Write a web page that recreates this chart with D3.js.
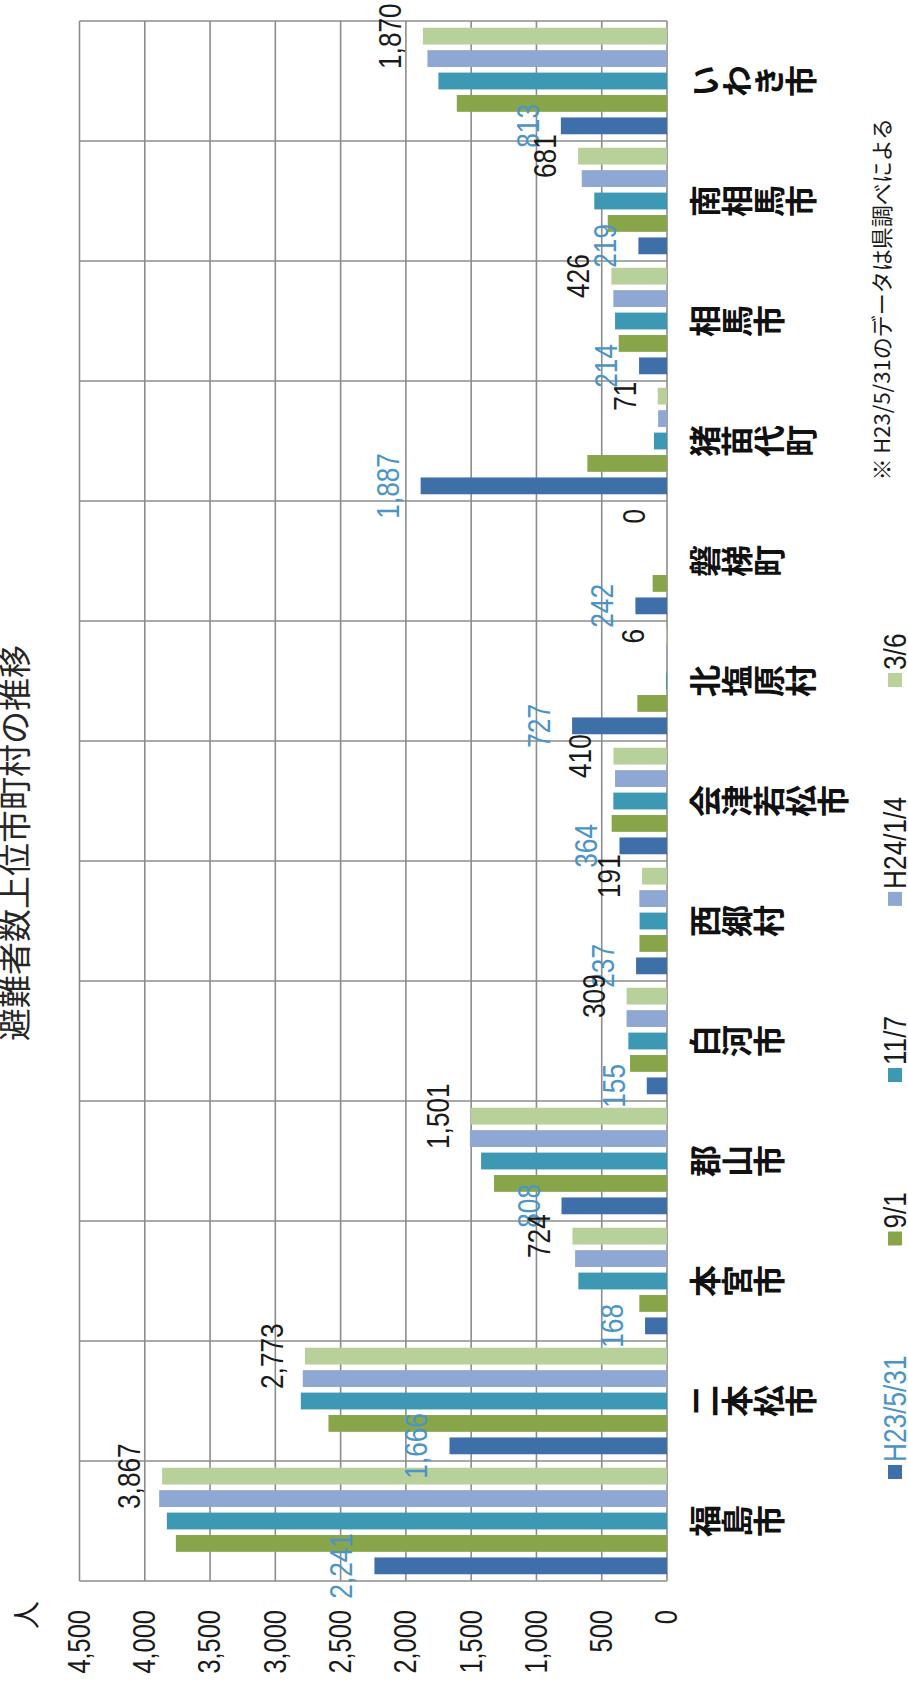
<!DOCTYPE html>
<meta charset="utf-8">

<!-- Load d3.js -->
<script src="https://d3js.org/d3.v7.min.js"></script>

<style>
body { margin: 0; background: #fff; }
svg { display: block; }
.num { font-family: "Liberation Sans", Arial, sans-serif; }
.jp { font-family: "Noto Sans CJK JP", sans-serif; }
</style>

<div id="chart"></div>

<script>
// categories (left to right in the upright chart)
var categories = ["福島市", "二本松市", "本宮市", "郡山市", "白河市", "西郷村", "会津若松市",
                  "北塩原村", "磐梯町", "猪苗代町", "相馬市", "南相馬市", "いわき市"];
var seriesNames = ["H23/5/31", "9/1", "11/7", "H24/1/4", "3/6"];

// evacuees per survey date
var h23_0531 = [2241, 1666, 168, 808, 155, 237, 364, 727, 242, 1887, 214, 219, 813];
var d0901    = [3762, 2593, 212, 1325, 283, 211, 424, 227, 110, 610, 370, 454, 1610];
var d1107    = [3831, 2805, 679, 1424, 296, 210, 411, 8, 0, 100, 398, 557, 1751];
var h24_0104 = [3890, 2790, 704, 1510, 310, 212, 398, 6, 0, 68, 411, 653, 1835];
var d0306    = [3867, 2773, 724, 1501, 309, 191, 410, 6, 0, 71, 426, 681, 1870];

var tickValues = [0, 500, 1000, 1500, 2000, 2500, 3000, 3500, 4000, 4500];

var title = "避難者数上位市町村の推移";
var unitLabel = "人";
var note = "※ H23/5/31のデータは県調べによる";

// the chart is drawn upright (W x H) and then turned a quarter left to fit the page
var W = 1686, H = 908;
var plot = {left: 105, right: 1665, top: 79.5, bottom: 667};

// squeeze latin text so it reads like the narrow face of the original
function narrow(sel) {
  sel.each(function() {
    var w = this.getComputedTextLength();
    d3.select(this).attr("textLength", w * 0.82).attr("lengthAdjust", "spacingAndGlyphs");
  });
}

var svg = d3.select("#chart")
  .append("svg")
    .attr("width", H)
    .attr("height", W);

var g = svg.append("g")
  .attr("transform", "translate(0," + W + ") rotate(-90)");

var rows = categories.map(function(c, i) {
  return {name: c, values: [h23_0531[i], d0901[i], d1107[i], h24_0104[i], d0306[i]]};
});

var x0 = d3.scaleBand()
  .domain(categories)
  .range([plot.left, plot.right]);

var x1 = d3.scaleBand()
  .domain(seriesNames)
  .range([0, x0.bandwidth()])
  .paddingInner(0.25)
  .paddingOuter(0.3);

var y = d3.scaleLinear()
  .domain([0, 4500])
  .range([plot.bottom, plot.top]);

var color = d3.scaleOrdinal()
  .domain(seriesNames)
  .range(["#3e6fa9", "#88a54a", "#3d98b3", "#8fa8d3", "#b8d09a"]);

var fmt = d3.format(",");

// grid: value lines and category separators
g.append("g")
  .selectAll("line")
  .data(tickValues)
  .enter().append("line")
    .attr("x1", plot.left).attr("x2", plot.right)
    .attr("y1", function(d) { return y(d); })
    .attr("y2", function(d) { return y(d); })
    .attr("stroke", "#8c8c8c")
    .attr("stroke-width", 1.6);

g.append("g")
  .selectAll("line")
  .data(categories.map(function(c) { return x0(c); }).concat([plot.right]))
  .enter().append("line")
    .attr("x1", function(d) { return d; })
    .attr("x2", function(d) { return d; })
    .attr("y1", plot.top).attr("y2", plot.bottom)
    .attr("stroke", "#8c8c8c")
    .attr("stroke-width", 1.6);

// bars
var groups = g.append("g")
  .selectAll("g")
  .data(rows)
  .enter().append("g")
    .attr("transform", function(d) { return "translate(" + x0(d.name) + ",0)"; });

groups.selectAll("rect")
  .data(function(d) { return d.values.map(function(v, i) { return {key: seriesNames[i], value: v}; }); })
  .enter().append("rect")
    .attr("x", function(d) { return x1(d.key); })
    .attr("width", x1.bandwidth())
    .attr("y", function(d) { return y(d.value); })
    .attr("height", function(d) { return plot.bottom - y(d.value); })
    .attr("fill", function(d) { return color(d.key); });

// value labels on the first and last survey
var labelled = [{idx: 0, fill: "#4a94c8"}, {idx: 4, fill: "#1a1a1a"}];
labelled.forEach(function(s) {
  var key = seriesNames[s.idx];
  g.append("g")
    .selectAll("text")
    .data(rows)
    .enter().append("text")
      .attr("class", "num")
      .attr("x", function(d) { return x0(d.name) + x1(key) + x1.bandwidth() / 2; })
      .attr("y", function(d) { return y(d.values[s.idx]) - 22; })
      .attr("text-anchor", "middle")
      .attr("font-size", 32)
      .attr("fill", s.fill)
      .text(function(d) { return fmt(d.values[s.idx]); })
      .call(narrow);
});

// value axis
var yAxis = g.append("g")
  .attr("transform", "translate(" + plot.left + ",0)")
  .call(d3.axisLeft(y).tickValues(tickValues).tickFormat(fmt).tickSize(0).tickPadding(29));
yAxis.select(".domain").remove();
yAxis.attr("font-family", null).attr("font-size", 31);
yAxis.selectAll("text")
  .attr("class", "num")
  .attr("fill", "#1a1a1a")
  .call(narrow);

g.append("text")
  .attr("class", "jp")
  .attr("x", 71).attr("y", 37)
  .attr("text-anchor", "middle")
  .attr("font-size", 28)
  .attr("fill", "#1a1a1a")
  .text(unitLabel);

// category names, written top to bottom
g.append("g")
  .selectAll("text")
  .data(categories)
  .enter().append("text")
    .attr("class", "jp")
    .attr("x", function(d) { return x0(d) + x0.bandwidth() / 2; })
    .attr("y", 689)
    .style("writing-mode", "vertical-rl")
    .attr("text-anchor", "start")
    .attr("font-size", 32)
    .attr("font-weight", "bold")
    .attr("fill", "#111")
    .text(function(d) { return d; });

// title (runs off the top edge in the original)
g.append("text")
  .attr("class", "jp")
  .attr("x", 843).attr("y", 27)
  .attr("text-anchor", "middle")
  .attr("font-size", 33)
  .attr("fill", "#262626")
  .text(title);

// legend
var legend = g.append("g");
var lx = 207;
seriesNames.forEach(function(name, i) {
  legend.append("rect")
    .attr("x", lx).attr("y", 888)
    .attr("width", 14).attr("height", 14)
    .attr("fill", color(name));
  var t = legend.append("text")
    .attr("class", "num")
    .attr("x", lx + 17).attr("y", 906)
    .attr("font-size", 32)
    .attr("fill", i === 0 ? "#4a94c8" : "#1a1a1a")
    .text(name)
    .call(narrow);
  lx += 17 + +t.attr("textLength") + 110;
});

// source note
g.append("text")
  .attr("class", "jp")
  .attr("x", 1568).attr("y", 890)
  .attr("text-anchor", "end")
  .attr("font-size", 22)
  .attr("fill", "#1a1a1a")
  .text(note);
</script>
